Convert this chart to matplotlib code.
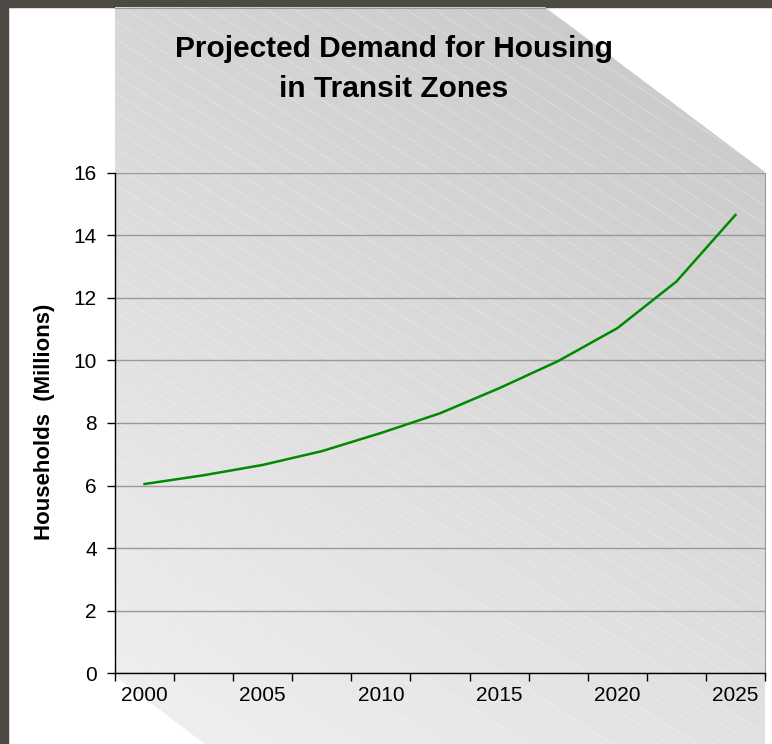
import numpy as np
import matplotlib
matplotlib.use("Agg")
import matplotlib.pyplot as plt
from matplotlib.patches import Polygon, Rectangle
from matplotlib.ticker import FixedLocator, NullFormatter, FixedFormatter

plt.rcParams['font.family'] = ['Liberation Sans', 'DejaVu Sans']

# Projected households in transit zones (millions), 2000-2025 in 2.5-year steps
years = ["2000", "2002.5", "2005", "2007.5", "2010", "2012.5",
         "2015", "2017.5", "2020", "2022.5", "2025"]
households = [6.05, 6.33, 6.66, 7.10, 7.68, 8.31, 9.11, 9.98, 11.03, 12.52, 14.65]
tick_labels = ["2000", "2005", "2010", "2015", "2020", "2025"]
y_ticks = [0, 2, 4, 6, 8, 10, 12, 14, 16]

W, H = 772, 744
fig = plt.figure(figsize=(W / 100, H / 100), dpi=100)
fig.patch.set_facecolor("white")

# Background layer in pixel coordinates
bg = fig.add_axes([0, 0, 1, 1])
bg.set_xlim(0, W)
bg.set_ylim(H, 0)
bg.axis("off")

# Dark frame on the left and top
frame_col = "#4d4a45"
bg.add_patch(Rectangle((0, 0), 8, H, color=frame_col, zorder=1))
bg.add_patch(Rectangle((0, 0), W, 7, color=frame_col, zorder=1))

# Gray diagonal band with a gradient fill
band_pts = [(115, 7), (545, 7), (765, 172), (765, H), (205, H), (115, 676)]
band = Polygon(band_pts, closed=True, facecolor="none", edgecolor="none", zorder=2)
bg.add_patch(band)

xx, yy = np.meshgrid(np.arange(W) + 0.5, np.arange(H) + 0.5)
shade = 214 - 0.0235 * (xx - 115) + 0.037 * (yy - 20)
shade = np.clip(shade, 195, 240) / 255.0
rgb = np.dstack([shade, shade, shade])
im = bg.imshow(rgb, extent=(0, W, H, 0), zorder=2, interpolation="bilinear")
im.set_clip_path(band)

# Faint white diagonal hatch
slope = 0.65
for x0 in np.arange(-1400, W + 50, 28):
    ln, = bg.plot([x0, x0 + 1500], [0, 1500 * slope], color="white",
                  lw=0.6, alpha=0.3, zorder=3)
    ln.set_clip_path(band)

bg.plot([115, 545], [7.5, 7.5], color="#9a9a9a", lw=0.8, zorder=3)

# Main chart
ax = fig.add_axes([115 / W, (H - 673.3) / H, 650 / W, (673.3 - 172.7) / H])
ax.patch.set_alpha(0)
x = np.arange(len(years))
ax.plot(x, households, color="#008a00", lw=1.8, zorder=5, solid_joinstyle="round")

ax.set_xlim(-0.5, len(years) - 0.5)
ax.set_ylim(0, 16)
ax.set_yticks(y_ticks)
ax.yaxis.grid(True, color="#999999", lw=1.0)
ax.set_axisbelow(True)

ax.xaxis.set_major_locator(FixedLocator(np.arange(-0.5, len(years), 1.0)))
ax.xaxis.set_major_formatter(NullFormatter())
ax.xaxis.set_minor_locator(FixedLocator(np.arange(0, len(years), 2)))
ax.xaxis.set_minor_formatter(FixedFormatter(tick_labels))
ax.tick_params(axis="x", which="major", length=6, width=1, color="black", direction="out")
ax.tick_params(axis="x", which="minor", length=0, pad=9, labelsize=15)
ax.tick_params(axis="y", length=6, width=1, color="black", direction="out",
               pad=7, labelsize=15)

for s in ["left", "bottom"]:
    ax.spines[s].set_color("black")
    ax.spines[s].set_linewidth(1.0)
ax.spines["right"].set_color("#999999")
ax.spines["top"].set_visible(False)

fig.text(45 / W, 1 - 422 / H, "Households  (Millions)", rotation=90,
         ha="center", va="center", fontsize=16, fontweight="bold")
fig.text(394 / W, 1 - 49 / H, "Projected Demand for Housing",
         ha="center", va="center", fontsize=21.5, fontweight="bold")
fig.text(394 / W, 1 - 89 / H, "in Transit Zones",
         ha="center", va="center", fontsize=21.5, fontweight="bold")

fig.savefig("out.png", dpi=100)
